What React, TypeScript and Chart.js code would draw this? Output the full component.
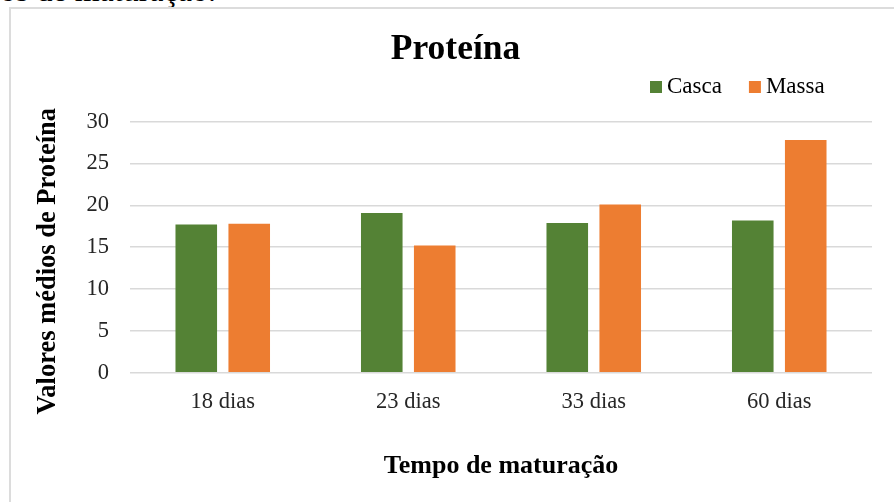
import React, { useEffect, useRef } from "react";
import { Chart, registerables } from "chart.js";

Chart.register(...registerables);

const SERIF = "'Liberation Serif', 'Times New Roman', serif";

const categories = ["18 dias", "23 dias", "33 dias", "60 dias"];
const casca = [17.7, 19.1, 17.9, 18.2];
const massa = [17.8, 15.2, 20.1, 27.8];
const yTicks = [0, 5, 10, 15, 20, 25, 30];

const chartTitle = "Proteína";
const xTitle = "Tempo de maturação";
const yTitle = "Valores médios de Proteína";
const captionTail = "os de maturação.";

const GREEN = "#548235";
const ORANGE = "#ED7D31";
const GRID = "#d9d9d9";
const TICK_COLOR = "#262626";

// Legend (top right) and the rotated y-axis title, drawn on the chart canvas.
const decorPlugin = {
  id: "decor",
  afterDraw(chart: any) {
    const { ctx, chartArea } = chart;
    ctx.save();

    // legend
    ctx.font = `23px ${SERIF}`;
    ctx.textAlign = "left";
    ctx.textBaseline = "alphabetic";
    let x = chartArea.right - 222;
    const boxTop = 81;
    const baseline = 93.3;
    chart.data.datasets.forEach((ds: any) => {
      ctx.fillStyle = ds.backgroundColor;
      ctx.fillRect(x, boxTop, 12, 12);
      ctx.fillStyle = "#000";
      ctx.fillText(ds.label, x + 17, baseline);
      x += 17 + ctx.measureText(ds.label).width + 27;
    });

    // y-axis title
    ctx.font = `bold 26.5px ${SERIF}`;
    ctx.fillStyle = "#000";
    ctx.textAlign = "center";
    ctx.textBaseline = "alphabetic";
    ctx.translate(55, (chartArea.top + chartArea.bottom) / 2 + 14);
    ctx.rotate(-Math.PI / 2);
    ctx.fillText(yTitle, 0, 0);

    ctx.restore();
  },
};

export default function App() {
  const canvasRef = useRef<HTMLCanvasElement | null>(null);

  useEffect(() => {
    const canvas = canvasRef.current;
    if (!canvas) return;
    const chart = new Chart(canvas, {
      type: "bar",
      data: {
        labels: categories,
        datasets: [
          {
            label: "Casca",
            data: casca,
            backgroundColor: GREEN,
            borderWidth: 0,
            categoryPercentage: 0.571,
            barPercentage: 0.785,
          },
          {
            label: "Massa",
            data: massa,
            backgroundColor: ORANGE,
            borderWidth: 0,
            categoryPercentage: 0.571,
            barPercentage: 0.785,
          },
        ],
      },
      options: {
        responsive: false,
        animation: false,
        devicePixelRatio: 1,
        layout: { padding: { left: 39, right: 22, top: 28.5, bottom: 0 } },
        plugins: {
          legend: { display: false },
          tooltip: { enabled: false },
          title: {
            display: true,
            text: chartTitle,
            color: "#000",
            font: { family: SERIF, size: 35.5, weight: "bold", lineHeight: 1.2 },
            padding: { top: 0, bottom: 50.6 },
          },
        },
        scales: {
          x: {
            grid: { display: false, drawTicks: false },
            border: { display: false },
            ticks: {
              color: TICK_COLOR,
              padding: 16,
              font: { family: SERIF, size: 22.5, lineHeight: 1.2 },
            },
            title: {
              display: true,
              text: xTitle,
              color: "#000",
              font: { family: SERIF, size: 26, weight: "bold", lineHeight: 1.2 },
              padding: { top: 35, bottom: 20.2 },
            },
            afterFit(scale: any) {
              scale.height = 129.3;
            },
          },
          y: {
            min: 0,
            max: 30,
            afterBuildTicks(scale: any) {
              scale.ticks = yTicks.map((v) => ({ value: v }));
            },
            grid: { color: GRID, lineWidth: 1.5, drawTicks: false },
            border: { display: false },
            ticks: {
              color: TICK_COLOR,
              padding: 21,
              font: { family: SERIF, size: 22.5, lineHeight: 1.2 },
            },
            afterFit(scale: any) {
              scale.width = 91;
            },
          },
        },
      },
      plugins: [decorPlugin],
    });
    return () => chart.destroy();
  }, []);

  return (
    <div
      style={{
        position: "fixed",
        left: 0,
        top: 0,
        width: 894,
        height: 502,
        overflow: "hidden",
        background: "#fff",
      }}
    >
      <div
        style={{
          position: "absolute",
          left: 0,
          top: -26.5,
          fontFamily: SERIF,
          fontSize: 32,
          lineHeight: "32px",
          color: "#000",
          whiteSpace: "nowrap",
        }}
      >
        {captionTail}
      </div>
      <div
        style={{
          position: "absolute",
          left: 9,
          top: 7,
          width: 920,
          height: 540,
          border: "2px solid #dcdcdc",
          boxSizing: "border-box",
        }}
      />
      <canvas
        ref={canvasRef}
        width={894}
        height={502}
        style={{ position: "absolute", left: 0, top: 0 }}
      />
    </div>
  );
}
